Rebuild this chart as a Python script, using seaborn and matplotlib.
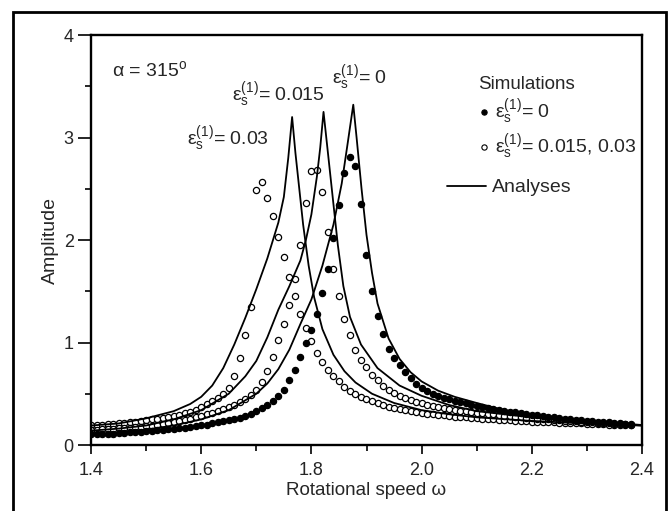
import matplotlib
matplotlib.use("Agg")
import matplotlib.pyplot as plt
import seaborn as sns
from matplotlib.lines import Line2D
from matplotlib.patches import Rectangle
from matplotlib.ticker import MultipleLocator

# ---- simulation points ----
sim_omega = [1.40, 1.41, 1.42, 1.43, 1.44, 1.45, 1.46, 1.47, 1.48, 1.49,
             1.50, 1.51, 1.52, 1.53, 1.54, 1.55, 1.56, 1.57, 1.58, 1.59,
             1.60, 1.61, 1.62, 1.63, 1.64, 1.65, 1.66, 1.67, 1.68, 1.69,
             1.70, 1.71, 1.72, 1.73, 1.74, 1.75, 1.76, 1.77, 1.78, 1.79,
             1.80, 1.81, 1.82, 1.83, 1.84, 1.85, 1.86, 1.87, 1.88, 1.89,
             1.90, 1.91, 1.92, 1.93, 1.94, 1.95, 1.96, 1.97, 1.98, 1.99,
             2.00, 2.01, 2.02, 2.03, 2.04, 2.05, 2.06, 2.07, 2.08, 2.09,
             2.10, 2.11, 2.12, 2.13, 2.14, 2.15, 2.16, 2.17, 2.18, 2.19,
             2.20, 2.21, 2.22, 2.23, 2.24, 2.25, 2.26, 2.27, 2.28, 2.29,
             2.30, 2.31, 2.32, 2.33, 2.34, 2.35, 2.36, 2.37, 2.38]

sim_eps0 = [0.105, 0.105, 0.108, 0.110, 0.112, 0.115, 0.120, 0.122, 0.125, 0.130,
            0.135, 0.140, 0.145, 0.150, 0.155, 0.160, 0.165, 0.170, 0.180, 0.185,
            0.195, 0.200, 0.210, 0.220, 0.230, 0.240, 0.250, 0.265, 0.280, 0.300,
            0.330, 0.360, 0.390, 0.425, 0.480, 0.540, 0.630, 0.730, 0.860, 1.000,
            1.120, 1.280, 1.480, 1.720, 2.020, 2.340, 2.650, 2.810, 2.720, 2.350,
            1.850, 1.500, 1.260, 1.080, 0.940, 0.850, 0.780, 0.710, 0.650, 0.600,
            0.560, 0.530, 0.500, 0.480, 0.460, 0.445, 0.430, 0.415, 0.405, 0.395,
            0.385, 0.375, 0.365, 0.355, 0.345, 0.335, 0.325, 0.318, 0.310, 0.302,
            0.295, 0.288, 0.282, 0.276, 0.270, 0.264, 0.258, 0.253, 0.248, 0.243,
            0.238, 0.233, 0.229, 0.225, 0.221, 0.217, 0.213, 0.209, 0.205]

sim_eps0015 = [0.148, 0.150, 0.152, 0.155, 0.158, 0.162, 0.166, 0.170, 0.175, 0.180,
               0.185, 0.190, 0.200, 0.208, 0.215, 0.225, 0.235, 0.245, 0.258, 0.270,
               0.285, 0.300, 0.315, 0.330, 0.350, 0.370, 0.390, 0.420, 0.450, 0.490,
               0.540, 0.610, 0.720, 0.860, 1.020, 1.180, 1.370, 1.620, 1.950, 2.360,
               2.670, 2.680, 2.470, 2.080, 1.720, 1.450, 1.230, 1.070, 0.930, 0.830,
               0.760, 0.680, 0.630, 0.580, 0.540, 0.510, 0.480, 0.460, 0.440, 0.420,
               0.405, 0.392, 0.380, 0.370, 0.360, 0.352, 0.344, 0.336, 0.329, 0.322,
               0.316, 0.310, 0.304, 0.298, 0.292, 0.287, 0.282, 0.277, 0.272, 0.267,
               0.262, 0.258, 0.254, 0.250, 0.246, 0.242, 0.238, 0.234, 0.230, 0.227,
               0.224, 0.221, 0.218, 0.215, 0.212, 0.209, 0.206, 0.203, 0.200]

sim_eps003 = [0.195, 0.197, 0.200, 0.203, 0.206, 0.210, 0.214, 0.220, 0.227, 0.234,
              0.242, 0.250, 0.258, 0.267, 0.276, 0.286, 0.297, 0.310, 0.325, 0.345,
              0.375, 0.400, 0.425, 0.460, 0.500, 0.560, 0.670, 0.850, 1.070, 1.350,
              2.490, 2.570, 2.410, 2.230, 2.030, 1.830, 1.640, 1.450, 1.280, 1.140,
              1.010, 0.900, 0.810, 0.730, 0.670, 0.620, 0.570, 0.530, 0.500, 0.470,
              0.445, 0.425, 0.405, 0.390, 0.375, 0.362, 0.350, 0.340, 0.330, 0.322,
              0.314, 0.307, 0.300, 0.294, 0.288, 0.283, 0.278, 0.273, 0.269, 0.265,
              0.261, 0.257, 0.253, 0.250, 0.247, 0.244, 0.241, 0.238, 0.235, 0.232,
              0.229, 0.227, 0.225, 0.222, 0.220, 0.218, 0.216, 0.214, 0.212, 0.210,
              0.208, 0.206, 0.204, 0.202, 0.200, 0.198, 0.196, 0.194, 0.192]

# ---- analysis curves ----
an_omega_0 = [1.40, 1.45, 1.50, 1.55, 1.60, 1.65, 1.70, 1.72, 1.74, 1.76, 1.78, 1.80,
              1.82, 1.84, 1.855, 1.866, 1.876, 1.882, 1.891, 1.90, 1.91, 1.92, 1.94,
              1.96, 1.98, 2.00, 2.03, 2.06, 2.10, 2.15, 2.20, 2.25, 2.30, 2.35, 2.40]
an_amp_0 = [0.10, 0.12, 0.15, 0.19, 0.25, 0.34, 0.50, 0.60, 0.74, 0.93, 1.18, 1.42,
            1.75, 2.15, 2.55, 2.95, 3.32, 3.00, 2.50, 2.05, 1.68, 1.38, 1.04,
            0.84, 0.71, 0.62, 0.53, 0.47, 0.41, 0.34, 0.30, 0.265, 0.235, 0.215, 0.195]

an_omega_0015 = [1.40, 1.45, 1.50, 1.55, 1.60, 1.65, 1.68, 1.70, 1.72, 1.74, 1.76, 1.78,
                 1.79, 1.80, 1.81, 1.816, 1.822, 1.828, 1.834, 1.840, 1.848, 1.858,
                 1.87, 1.89, 1.92, 1.96, 2.00, 2.05, 2.10, 2.20, 2.30, 2.40]
an_amp_0015 = [0.14, 0.16, 0.19, 0.25, 0.34, 0.50, 0.67, 0.82, 1.05, 1.32, 1.55, 1.80,
               2.00, 2.25, 2.62, 2.90, 3.25, 2.95, 2.65, 2.35, 1.95, 1.55,
               1.25, 0.98, 0.75, 0.58, 0.48, 0.39, 0.33, 0.27, 0.22, 0.19]

an_omega_003 = [1.40, 1.45, 1.50, 1.55, 1.58, 1.60, 1.62, 1.64, 1.66, 1.68, 1.70, 1.72,
                1.74, 1.75, 1.758, 1.765, 1.771, 1.777, 1.785, 1.795, 1.805, 1.82,
                1.84, 1.86, 1.88, 1.91, 1.95, 2.00, 2.05, 2.10, 2.20, 2.30, 2.40]
an_amp_003 = [0.19, 0.21, 0.26, 0.33, 0.40, 0.47, 0.58, 0.75, 0.98, 1.24, 1.52, 1.82,
              2.17, 2.42, 2.80, 3.20, 2.85, 2.55, 2.15, 1.75, 1.44, 1.13,
              0.88, 0.72, 0.61, 0.50, 0.41, 0.34, 0.30, 0.27, 0.235, 0.21, 0.19]

sns.set_style("ticks")
plt.rcParams["font.family"] = ["Liberation Sans", "DejaVu Sans"]
plt.rcParams["mathtext.fontset"] = "custom"
plt.rcParams["mathtext.rm"] = "Liberation Sans"
plt.rcParams["mathtext.it"] = "Liberation Sans:italic"
plt.rcParams["mathtext.bf"] = "Liberation Sans:bold"

fig, ax = plt.subplots(figsize=(6.71, 5.11), dpi=100)
fig.subplots_adjust(left=91 / 671, right=642 / 671, top=1 - 35 / 511, bottom=1 - 445 / 511)

# simulations
sns.scatterplot(x=sim_omega, y=sim_eps003, ax=ax, marker="o", s=20,
                facecolor="white", edgecolor="black", linewidth=0.9, zorder=2)
sns.scatterplot(x=sim_omega, y=sim_eps0015, ax=ax, marker="o", s=20,
                facecolor="white", edgecolor="black", linewidth=0.9, zorder=2)
sns.scatterplot(x=sim_omega, y=sim_eps0, ax=ax, marker="o", s=20,
                facecolor="black", edgecolor="black", linewidth=0.9, zorder=2)

# analyses
for om, amp in [(an_omega_003, an_amp_003), (an_omega_0015, an_amp_0015), (an_omega_0, an_amp_0)]:
    sns.lineplot(x=om, y=amp, ax=ax, color="black", linewidth=1.3,
                 estimator=None, sort=False, zorder=3)

ax.set_xlim(1.4, 2.4)
ax.set_ylim(0, 4)
ax.xaxis.set_major_locator(MultipleLocator(0.2))
ax.xaxis.set_minor_locator(MultipleLocator(0.1))
ax.yaxis.set_major_locator(MultipleLocator(1))
ax.yaxis.set_minor_locator(MultipleLocator(0.5))
ax.tick_params(axis="x", which="major", length=6.5, width=1.2, labelsize=13, pad=6, color="black")
ax.tick_params(axis="x", which="minor", length=4, width=1.2, color="black")
ax.tick_params(axis="y", which="major", length=9.5, width=1.2, labelsize=13, pad=3, color="black")
ax.tick_params(axis="y", which="minor", length=4.5, width=1.2, color="black")
for sp in ax.spines.values():
    sp.set_visible(True)
    sp.set_linewidth(1.7)
    sp.set_color("black")

ax.set_xlabel("Rotational speed ω", fontsize=13.5, labelpad=2)
ax.set_ylabel("Amplitude", fontsize=14, labelpad=3)

# annotations
ax.text(1.438, 3.60, r"$\mathrm{\alpha}$ = 315$^\mathrm{o}$", fontsize=14, va="baseline")
ax.text(1.574, 2.93, r"$\mathrm{\varepsilon_s^{(1)}}$= 0.03", fontsize=14, va="baseline")
ax.text(1.656, 3.36, r"$\mathrm{\varepsilon_s^{(1)}}$= 0.015", fontsize=14, va="baseline")
ax.text(1.837, 3.52, r"$\mathrm{\varepsilon_s^{(1)}}$= 0", fontsize=14, va="baseline")

# legends
sim_handles = [
    Line2D([], [], marker="o", ls="", ms=3.8, mfc="black", mec="black", mew=0.8),
    Line2D([], [], marker="o", ls="", ms=3.8, mfc="white", mec="black", mew=0.8),
]
leg1 = ax.legend(sim_handles,
                 [r"$\mathrm{\varepsilon_s^{(1)}}$= 0", r"$\mathrm{\varepsilon_s^{(1)}}$= 0.015, 0.03"],
                 title="Simulations", alignment="left", loc="upper left",
                 bbox_to_anchor=(0.679, 0.932), frameon=False, fontsize=14,
                 title_fontsize=13.5, handlelength=0.6, handletextpad=0.3,
                 borderpad=0.65, borderaxespad=0, labelspacing=0.3)
ax.add_artist(leg1)
ax.legend([Line2D([], [], color="black", lw=1.3)], ["Analyses"], loc="center left",
          bbox_to_anchor=(0.646, 0.628), frameon=False, fontsize=14,
          handlelength=2.0, handletextpad=0.3, borderpad=0, borderaxespad=0)

# outer frame around the figure
fig.patches.append(Rectangle((13 / 671, -0.02), (666 - 13) / 671, 1.02 - 12 / 511,
                             transform=fig.transFigure, fill=False,
                             edgecolor="black", linewidth=2.0))

plt.savefig("out.png", dpi=100)
plt.close()
